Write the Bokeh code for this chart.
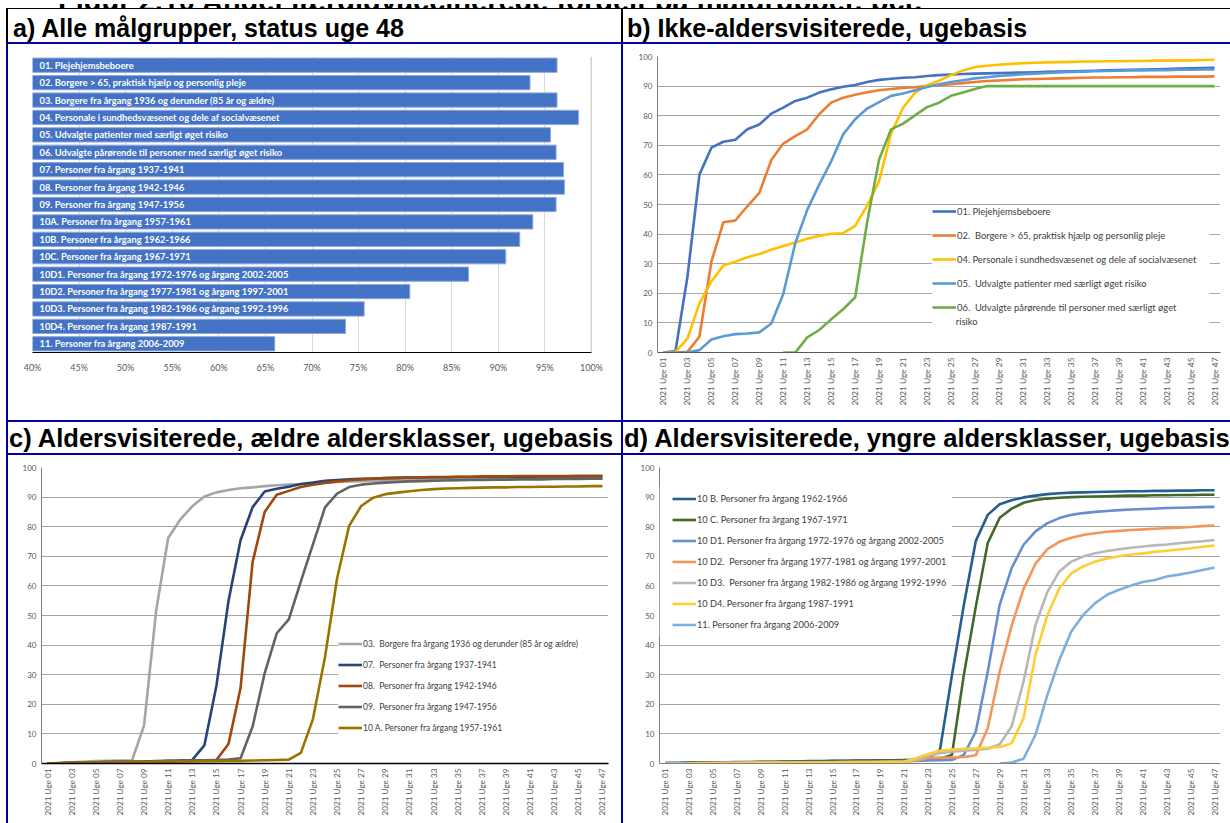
import math
from bokeh.plotting import figure
from bokeh.models import (Range1d, FactorRange, FixedTicker, NumeralTickFormatter, Legend,
                          LegendItem, Div, Span, BoxAnnotation, Label)
from bokeh.layouts import row, column
from bokeh.core.properties import value
from bokeh.embed import file_html
from bokeh.resources import INLINE

nan = float("nan")

# ---------------- data ----------------
a_labels = ["01. Plejehjemsbeboere",
            "02. Borgere > 65, praktisk hjælp og personlig pleje",
            "03. Borgere fra årgang 1936 og derunder (85 år og ældre)",
            "04. Personale i sundhedsvæsenet og dele af socialvæsenet",
            "05. Udvalgte patienter med særligt øget risiko",
            "06. Udvalgte pårørende til personer med særligt øget risiko",
            "07. Personer fra årgang 1937-1941",
            "08. Personer fra årgang 1942-1946",
            "09. Personer fra årgang 1947-1956",
            "10A. Personer fra årgang 1957-1961",
            "10B. Personer fra årgang 1962-1966",
            "10C. Personer fra årgang 1967-1971",
            "10D1. Personer fra årgang 1972-1976 og årgang 2002-2005",
            "10D2. Personer fra årgang 1977-1981 og årgang 1997-2001",
            "10D3. Personer fra årgang 1982-1986 og årgang 1992-1996",
            "10D4. Personer fra årgang 1987-1991",
            "11. Personer fra årgang 2006-2009"]
a_values = [0.963, 0.934, 0.963, 0.986, 0.956, 0.962, 0.970, 0.971, 0.962,
            0.937, 0.923, 0.908, 0.868, 0.805, 0.756, 0.736, 0.660]
a_ticks = [0.40, 0.45, 0.50, 0.55, 0.60, 0.65, 0.70, 0.75, 0.80, 0.85, 0.90, 0.95, 1.00]

weeks = list(range(1, 48))
tick_weeks = list(range(1, 48, 2))
tick_labels = ["2021 Uge %02d" % w for w in tick_weeks]
y_ticks = [0, 10, 20, 30, 40, 50, 60, 70, 80, 90, 100]

b01 = [0, 0.5, 25.6, 60.1, 69.2, 71.2, 71.9, 75.4, 77.0, 80.7, 82.7, 85.0, 86.1, 87.8, 88.9, 89.8,
       90.4, 91.4, 92.1, 92.5, 92.8, 93.0, 93.4, 93.7, 93.9, 94.1, 94.2, 94.3, 94.4, 94.5, 94.6, 94.7,
       94.8, 94.9, 95.0, 95.1, 95.2, 95.3, 95.4, 95.5, 95.6, 95.7, 95.8, 95.9, 96.0, 96.1, 96.2]
b02 = [0, 0, 0.2, 5.3, 30.7, 44.0, 44.6, 49.4, 53.9, 65.0, 70.6, 73.1, 75.4, 80.5, 84.4, 86.1,
       87.1, 87.9, 88.6, 89.0, 89.4, 89.6, 90.1, 90.3, 90.6, 91.0, 91.4, 91.7, 91.9, 92.1, 92.3, 92.4,
       92.5, 92.6, 92.7, 92.8, 92.9, 92.9, 93.0, 93.0, 93.1, 93.1, 93.1, 93.2, 93.2, 93.2, 93.3]
b04 = [0, 0.2, 4.7, 16.6, 24.0, 29.4, 30.7, 32.2, 33.3, 34.7, 36.0, 37.2, 38.4, 39.4, 40.1, 40.3,
       42.8, 49.6, 57.9, 74.0, 82.7, 87.8, 90.3, 91.8, 93.7, 95.3, 96.4, 96.9, 97.2, 97.5, 97.7, 97.9,
       98.0, 98.1, 98.2, 98.3, 98.3, 98.4, 98.4, 98.5, 98.5, 98.6, 98.6, 98.7, 98.7, 98.8, 98.9]
b05 = [0, 0, 0, 0.8, 4.4, 5.5, 6.2, 6.4, 6.8, 9.8, 19.8, 36.9, 48.2, 56.7, 64.6, 73.7,
       78.8, 82.4, 84.6, 86.7, 87.5, 88.6, 89.7, 90.6, 91.4, 92.0, 92.6, 93.0, 93.4, 93.7, 94.0, 94.2,
       94.4, 94.6, 94.8, 94.9, 95.0, 95.1, 95.2, 95.3, 95.3, 95.4, 95.4, 95.5, 95.5, 95.6, 95.6]
b06 = [nan, nan, nan, nan, nan, nan, nan, nan, nan, nan, 0, 0, 5.1, 7.6, 11.2, 14.6,
       18.6, 44.0, 65.2, 75.4, 77.3, 80.1, 82.9, 84.4, 86.7, 87.8, 89.0, 90.0, 90.0, 90.0, 90.0, 90.0,
       90.0, 90.0, 90.0, 90.0, 90.0, 90.0, 90.0, 90.0, 90.0, 90.0, 90.0, 90.0, 90.0, 90.0, 90.0]

c03 = [0.0, 0.2, 0.4, 0.6, 0.8, 0.9, 1.0, 1.0, 12.8, 51.5, 76.2, 82.4, 86.9, 90.2, 91.6, 92.4,
       93.0, 93.3, 93.7, 94.0, 94.2, 94.4, 94.7, 94.9, 95.1, 95.3, 95.4, 95.5, 95.6, 95.7, 95.8, 95.9,
       95.9, 96.0, 96.0, 96.1, 96.1, 96.1, 96.2, 96.2, 96.2, 96.2, 96.3, 96.3, 96.3, 96.3, 96.3]
c07 = [0, 0.1, 0.2, 0.3, 0.4, 0.5, 0.6, 0.6, 0.7, 0.8, 0.9, 1.0, 1.2, 6.1, 26.3, 54.9,
       75.4, 86.6, 91.9, 92.8, 93.5, 94.4, 94.9, 95.5, 95.8, 96.0, 96.2, 96.3, 96.4, 96.5, 96.6, 96.6,
       96.7, 96.7, 96.8, 96.8, 96.8, 96.9, 96.9, 96.9, 96.9, 97.0, 97.0, 97.0, 97.0, 97.0, 97.0]
c08 = [0, 0.1, 0.2, 0.3, 0.4, 0.5, 0.5, 0.6, 0.6, 0.7, 0.8, 0.9, 1.0, 1.1, 1.2, 6.6,
       25.5, 68.1, 85.0, 90.8, 92.1, 93.4, 94.2, 94.8, 95.3, 95.7, 96.0, 96.2, 96.4, 96.5, 96.6, 96.7,
       96.8, 96.8, 96.9, 96.9, 97.0, 97.0, 97.0, 97.1, 97.1, 97.1, 97.1, 97.1, 97.2, 97.2, 97.2]
c09 = [0, 0.1, 0.2, 0.3, 0.4, 0.5, 0.5, 0.6, 0.6, 0.7, 0.8, 0.9, 1.0, 1.1, 1.2, 1.3,
       1.8, 12.5, 30.5, 44.0, 48.7, 61.5, 74.0, 86.5, 91.2, 93.4, 94.2, 94.6, 94.9, 95.1, 95.3, 95.4,
       95.5, 95.6, 95.7, 95.8, 95.8, 95.9, 95.9, 96.0, 96.0, 96.0, 96.1, 96.1, 96.1, 96.2, 96.2]
c10a = [0, 0.1, 0.2, 0.3, 0.3, 0.4, 0.4, 0.5, 0.5, 0.6, 0.6, 0.7, 0.7, 0.8, 0.8, 0.9,
        0.9, 1.0, 1.1, 1.2, 1.3, 3.6, 15.0, 36.0, 62.5, 80.3, 87.0, 89.8, 91.0, 91.5, 92.0, 92.4,
        92.7, 92.9, 93.0, 93.1, 93.2, 93.3, 93.3, 93.4, 93.4, 93.5, 93.5, 93.6, 93.6, 93.7, 93.7]

d10b = [0.2, 0.2, 0.3, 0.3, 0.4, 0.4, 0.5, 0.5, 0.6, 0.6, 0.7, 0.7, 0.8, 0.8, 0.9, 0.9,
        1.0, 1.0, 1.1, 1.1, 1.2, 1.3, 1.6, 4.6, 29.8, 53.6, 75.2, 84.0, 87.6, 88.9, 89.9, 90.5,
        91.0, 91.3, 91.5, 91.6, 91.7, 91.8, 91.9, 92.0, 92.0, 92.1, 92.1, 92.2, 92.2, 92.3, 92.3]
d10c = [0.1, 0.1, 0.2, 0.2, 0.3, 0.3, 0.4, 0.4, 0.5, 0.5, 0.6, 0.6, 0.7, 0.7, 0.8, 0.8,
        0.9, 0.9, 1.0, 1.0, 1.1, 1.2, 1.4, 1.6, 2.9, 30.0, 53.0, 74.5, 83.0, 86.1, 88.1, 89.0,
        89.5, 89.8, 90.0, 90.1, 90.2, 90.3, 90.4, 90.5, 90.5, 90.6, 90.6, 90.7, 90.7, 90.8, 90.8]
d10d1 = [0.1, 0.1, 0.1, 0.2, 0.2, 0.2, 0.3, 0.3, 0.3, 0.4, 0.4, 0.4, 0.5, 0.5, 0.5, 0.6,
         0.6, 0.6, 0.7, 0.7, 0.8, 0.9, 1.0, 1.1, 1.2, 2.9, 10.8, 31.0, 53.6, 66.0, 73.9, 78.4,
         81.2, 82.9, 84.0, 84.6, 85.0, 85.3, 85.6, 85.8, 86.0, 86.1, 86.3, 86.4, 86.5, 86.6, 86.7]
d10d2 = [0.1, 0.1, 0.1, 0.1, 0.2, 0.2, 0.2, 0.2, 0.3, 0.3, 0.3, 0.3, 0.4, 0.4, 0.4, 0.5,
         0.5, 0.5, 0.6, 0.6, 0.7, 1.0, 1.8, 2.0, 2.0, 2.2, 2.8, 11.9, 31.0, 46.5, 59.0, 67.5,
         72.4, 74.9, 76.3, 77.2, 77.8, 78.3, 78.6, 78.9, 79.1, 79.3, 79.5, 79.7, 79.9, 80.2, 80.4]
d10d3 = [0.1, 0.1, 0.1, 0.1, 0.1, 0.2, 0.2, 0.2, 0.2, 0.3, 0.3, 0.3, 0.3, 0.4, 0.4, 0.4,
         0.5, 0.5, 0.5, 0.6, 0.7, 1.2, 2.5, 3.5, 4.0, 4.3, 4.6, 5.0, 6.5, 12.5, 27.7, 46.8,
         58.0, 64.9, 68.2, 69.9, 71.0, 71.8, 72.4, 72.9, 73.3, 73.7, 74.0, 74.4, 74.8, 75.1, 75.5]
d10d4 = [nan, nan, 0.1, 0.1, 0.1, 0.1, 0.1, 0.2, 0.2, 0.2, 0.2, 0.2, 0.3, 0.3, 0.3, 0.3,
         0.4, 0.4, 0.4, 0.5, 0.6, 1.8, 3.2, 4.3, 4.7, 5.0, 5.1, 5.3, 5.6, 6.8, 15.3, 36.7,
         50.2, 59.2, 64.2, 66.6, 68.2, 69.3, 70.0, 70.6, 71.0, 71.5, 71.9, 72.3, 72.7, 73.2, 73.6]
d11 = [nan, nan, nan, nan, nan, nan, nan, nan, nan, nan, nan, nan, nan, nan, nan, nan,
       nan, nan, nan, nan, nan, nan, nan, nan, nan, nan, nan, nan, 0.0, 0.3, 1.6, 9.7,
       23.2, 35.0, 44.6, 50.2, 54.2, 57.0, 58.7, 60.1, 61.3, 62.0, 63.2, 63.8, 64.5, 65.4, 66.2]

b_series = [("01. Plejehjemsbeboere", b01, "#4472C4"),
            ("02.  Borgere > 65, praktisk hjælp og personlig pleje", b02, "#ED7D31"),
            ("04. Personale i sundhedsvæsenet og dele af socialvæsenet", b04, "#FFC000"),
            ("05.  Udvalgte patienter med særligt øget risiko", b05, "#5B9BD5"),
            ("06.  Udvalgte pårørende til personer med særligt øget", b06, "#70AD47")]
b_wrap = "risiko"
c_series = [("03.  Borgere fra årgang 1936 og derunder (85 år og ældre)", c03, "#A5A5A5"),
            ("07.  Personer fra årgang 1937-1941", c07, "#264478"),
            ("08.  Personer fra årgang 1942-1946", c08, "#9E480E"),
            ("09.  Personer fra årgang 1947-1956", c09, "#636363"),
            ("10 A. Personer fra årgang 1957-1961", c10a, "#997300")]
d_series = [("10 B. Personer fra årgang 1962-1966", d10b, "#255E91"),
            ("10 C. Personer fra årgang 1967-1971", d10c, "#43682B"),
            ("10 D1. Personer fra årgang 1972-1976 og årgang 2002-2005", d10d1, "#698ED0"),
            ("10 D2.  Personer fra årgang 1977-1981 og årgang 1997-2001", d10d2, "#F1975A"),
            ("10 D3.  Personer fra årgang 1982-1986 og årgang 1992-1996", d10d3, "#B7B7B7"),
            ("10 D4. Personer fra årgang 1987-1991", d10d4, "#FFCD33"),
            ("11. Personer fra årgang 2006-2009", d11, "#7CAFDD")]

header_texts = ["a) Alle målgrupper, status uge 48",
                "b) Ikke-aldersvisiterede, ugebasis",
                "c) Aldersvisiterede, ældre aldersklasser, ugebasis",
                "d) Aldersvisiterede, yngre aldersklasser, ugebasis"]
fig_title = "Figur 2.10 Andel færdigvaccinerede fordelt på målgrupper, pct."

# ---------------- styling helpers ----------------
BLUE = "#0000A0"
FONT = "Lato"
TICK_COLOR = "#595959"
GRID = "#A6A6A6"
HFONT = "'Liberation Sans',Arial,sans-serif"


def bar_div(w, h, color):
    return Div(text="", width=w, height=h, margin=0,
               styles={"background-color": color})


def header(txt, w, h, pad_top, pad_left, size):
    html = ('<div style="font-family:%s;font-weight:bold;font-size:%spx;line-height:%spx;'
            'padding:%dpx 0 0 %dpx;white-space:nowrap;color:#000">%s</div>'
            % (HFONT, size, size, pad_top, pad_left, txt))
    return Div(text=html, width=w, height=h, margin=0,
               styles={"background-color": "white", "overflow": "hidden"})


def line_fig(w, h, left, right, top, bottom, series, xfont, xstand):
    p = figure(width=w, height=h, x_range=Range1d(0.5, 47.5), y_range=Range1d(0, 100),
               output_backend="svg", toolbar_location=None,
               min_border_left=left, min_border_right=right,
               min_border_top=top, min_border_bottom=bottom)
    p.outline_line_color = None
    p.background_fill_color = "white"
    p.border_fill_color = "white"
    p.xgrid.visible = False
    p.ygrid.ticker = FixedTicker(ticks=y_ticks)
    p.ygrid.grid_line_color = GRID
    p.ygrid.grid_line_width = 1
    p.yaxis.ticker = FixedTicker(ticks=y_ticks)
    p.xaxis.ticker = FixedTicker(ticks=tick_weeks)
    p.xaxis.major_label_overrides = dict(zip(tick_weeks, tick_labels))
    p.xaxis.major_label_orientation = math.pi / 2
    for ax in (p.xaxis[0], p.yaxis[0]):
        ax.major_tick_out = 0
        ax.major_tick_in = 0
        ax.minor_tick_out = 0
        ax.minor_tick_in = 0
        ax.major_label_text_font = FONT
        ax.major_label_text_color = TICK_COLOR
        ax.axis_line_color = "#7F7F7F"
    p.yaxis.major_label_text_font_size = "8px"
    p.xaxis.major_label_text_font_size = xfont
    p.xaxis.major_label_standoff = xstand
    p.yaxis.major_label_standoff = 5
    renderers = []
    for label, ys, color in series:
        r = p.line(weeks, ys, line_color=color, line_width=2.6)
        renderers.append((label, r))
    return p, renderers


def make_legend(p, items, loc, row_h, spacing, fsize):
    lg = Legend(items=[LegendItem(label=l, renderers=[r]) for l, r in items],
                location=loc, orientation="vertical", glyph_width=24,
                glyph_height=row_h, label_height=row_h, spacing=spacing,
                padding=0, margin=0, label_standoff=1,
                border_line_color=None, background_fill_alpha=0,
                label_text_font=FONT, label_text_font_size=fsize,
                label_text_color="#404040")
    p.add_layout(lg)
    return lg


# ---------------- panel a ----------------
fa = figure(width=613, height=376, y_range=FactorRange(factors=list(reversed(a_labels))),
            x_range=Range1d(0.40, 1.00), output_backend="svg", toolbar_location=None,
            min_border_left=24, min_border_right=30, min_border_top=12, min_border_bottom=31)
fa.outline_line_color = None
fa.border_fill_color = "white"
fa.ygrid.visible = False
fa.xgrid.ticker = FixedTicker(ticks=a_ticks)
fa.xgrid.grid_line_color = "#D9D9D9"
fa.yaxis.visible = False
fa.xaxis.ticker = FixedTicker(ticks=a_ticks)
fa.xaxis.formatter = NumeralTickFormatter(format="0%")
fa.xaxis.major_tick_out = 0
fa.xaxis.minor_tick_out = 0
fa.xaxis.major_tick_in = 0
fa.xaxis.minor_tick_in = 0
fa.xaxis.axis_line_color = "#000000"
fa.xaxis.axis_line_width = 1.2
fa.xaxis.major_label_text_font = FONT
fa.xaxis.major_label_text_font_size = "9px"
fa.xaxis.major_label_text_color = TICK_COLOR
fa.xaxis.major_label_standoff = 9
fa.add_layout(Span(location=1.0, dimension="height", line_color="#A6A6A6", line_width=1.5))
fa.hbar(y=a_labels, left=0, right=a_values, height=0.82, fill_color="#4472C4",
        line_color="#8EA9DB", line_width=1)
fa.text(x=0.40, y=a_labels, text=a_labels, x_offset=7, text_baseline="middle",
        text_align="left", text_color="white", text_font=value(FONT),
        text_font_style="bold", text_font_size="9.3px")

# ---------------- panel b ----------------
fb, rb = line_fig(607, 376, 34, 10, 12, 68, b_series, "8.4px", 5)
fb.xaxis.axis_line_color = "#595959"
fb.add_layout(BoxAnnotation(left=23.4, right=46.6, bottom=7.4, top=49.6,
                            fill_color="white", fill_alpha=1, line_color=None))
make_legend(fb, rb, (275, 39), 12, 12, "9.4px")
fb.add_layout(Label(x=25.4, y=10.5, text=b_wrap, text_baseline="middle",
                    text_font=FONT, text_font_size="9.4px", text_color="#404040"))

# ---------------- panel c ----------------
fc, rc = line_fig(613, 368, 33, 13, 12, 60, c_series, "8.2px", 5)
fc.xaxis.axis_line_color = "#000000"
fc.xaxis.axis_line_width = 1.5
fc.add_layout(BoxAnnotation(left=25.1, right=47.5, bottom=7.8, top=43.9,
                            fill_color="white", fill_alpha=1, line_color=None))
make_legend(fc, rc, (297, 25), 21, 0, "8.5px")

# ---------------- panel d ----------------
fd, rd = line_fig(607, 368, 36, 10, 12, 60, d_series, "8.2px", 5)
fd.add_layout(BoxAnnotation(left=0.5, right=24.98, bottom=43.2, top=93.8,
                            fill_color="white", fill_alpha=1, line_color=None))
make_legend(fd, rd, (13, 128), 21, 0, "9.2px")

# ---------------- layout ----------------
# The figure title sits above the visible area; only its lower part shows, as in the source.
title_div = Div(text=('<div style="height:8px;overflow:hidden;background:white">'
                      '<div style="transform:translateY(-11px);padding-left:58px;'
                      'font-family:%s;font-weight:bold;font-size:29px;line-height:16px;'
                      'white-space:nowrap;color:#000">%s</div></div>' % (HFONT, fig_title)),
                width=1230, height=8, margin=0)
ha = header(header_texts[0], 613, 33, 7, 5, 25)
hb = header(header_texts[1], 607, 33, 7, 4, 25)
hc = header(header_texts[2], 613, 31, 4, 1, 25.5)
hd = header(header_texts[3], 607, 31, 4, 1, 25.5)


def hline(color, h):
    return row(bar_div(6, h, "white"), bar_div(1224, h, color))


def panel_row(h, left_item, right_item, line_color):
    return row(bar_div(6, h, "white"), bar_div(2, h, line_color), left_item,
               bar_div(2, h, line_color), right_item)


layout = column(
    title_div,
    hline("#000000", 1),
    panel_row(33, ha, hb, "#000000"),
    hline(BLUE, 2),
    panel_row(376, fa, fb, BLUE),
    hline(BLUE, 2),
    panel_row(31, hc, hd, BLUE),
    hline(BLUE, 2),
    panel_row(368, fc, fd, BLUE),
)

open("out.html", "w").write(file_html(layout, INLINE, "Figur 2.10"))
